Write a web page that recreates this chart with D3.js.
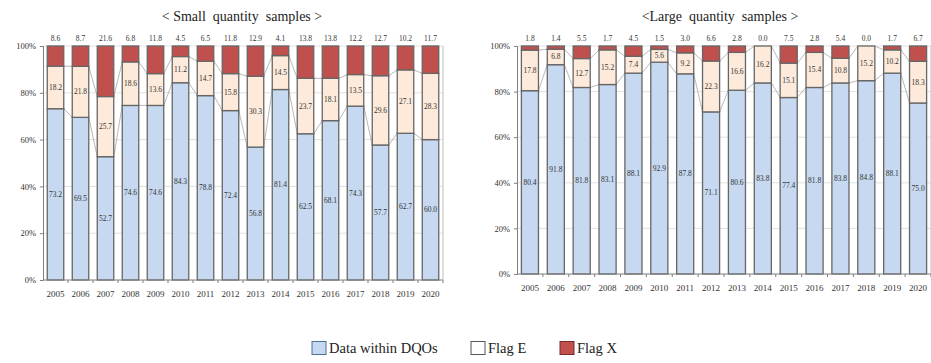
<!DOCTYPE html>
<html>
<head>
<meta charset="utf-8">
<script src="https://cdn.jsdelivr.net/npm/d3@7"></script>
<style>
  body { margin: 0; background: #fff; }
  svg text { font-family: "Liberation Serif", "Times New Roman", serif; }
</style>
</head>
<body>
<div id="chart-container"></div>
<script>
// categories
const years = ['2005', '2006', '2007', '2008', '2009', '2010', '2011', '2012',
    '2013', '2014', '2015', '2016', '2017', '2018', '2019', '2020']

// small quantity samples (%)
const smallDqo = [73.2, 69.5, 52.7, 74.6, 74.6, 84.3, 78.8, 72.4, 56.8, 81.4, 62.5, 68.1, 74.3, 57.7, 62.7, 60.0]
const smallFlagE = [18.2, 21.8, 25.7, 18.6, 13.6, 11.2, 14.7, 15.8, 30.3, 14.5, 23.7, 18.1, 13.5, 29.6, 27.1, 28.3]
const smallFlagX = [8.6, 8.7, 21.6, 6.8, 11.8, 4.5, 6.5, 11.8, 12.9, 4.1, 13.8, 13.8, 12.2, 12.7, 10.2, 11.7]

// large quantity samples (%)
const largeDqo = [80.4, 91.8, 81.8, 83.1, 88.1, 92.9, 87.8, 71.1, 80.6, 83.8, 77.4, 81.8, 83.8, 84.8, 88.1, 75.0]
const largeFlagE = [17.8, 6.8, 12.7, 15.2, 7.4, 5.6, 9.2, 22.3, 16.6, 16.2, 15.1, 15.4, 10.8, 15.2, 10.2, 18.3]
const largeFlagX = [1.8, 1.4, 5.5, 1.7, 4.5, 1.5, 3.0, 6.6, 2.8, 0.0, 7.5, 2.8, 5.4, 0.0, 1.7, 6.7]

const seriesNames = ['Data within DQOs', 'Flag E', 'Flag X']
const seriesColors = ['#c6d9f1', '#fdeada', '#c0504d']
const yTicks = [0, 20, 40, 60, 80, 100]

const width = 931, height = 363

const svg = d3.select('#chart-container')
    .append('svg')
    .attr('width', width)
    .attr('height', height)

function drawPanel(title, dqo, flagE, flagX, opts) {
    const rows = years.map((y, i) => ({ year: y, dqo: dqo[i], flagE: flagE[i], flagX: flagX[i] }))
    const keys = ['dqo', 'flagE', 'flagX']
    const stacked = d3.stack().keys(keys)(rows)

    const x = d3.scaleBand().domain(years).range([opts.left, opts.right])
        .paddingInner(0.34).paddingOuter(0.17)
    const y = d3.scaleLinear().domain([0, 100]).range([opts.bottom, opts.top])

    const g = svg.append('g')

    // gridlines
    g.selectAll('.grid')
        .data(yTicks.filter(t => t > 0))
        .enter()
        .append('line')
        .attr('x1', opts.left).attr('x2', opts.right)
        .attr('y1', d => y(d)).attr('y2', d => y(d))
        .attr('stroke', '#d9d9d9')
        .attr('stroke-width', 0.8)

    // plot area right edge
    g.append('line')
        .attr('x1', opts.right).attr('x2', opts.right)
        .attr('y1', opts.top).attr('y2', opts.bottom)
        .attr('stroke', '#bfbfbf')

    // series lines between bars
    const bw = x.bandwidth()
    for (let k = 0; k < 2; k++) {
        const s = stacked[k]
        for (let i = 0; i < years.length - 1; i++) {
            g.append('line')
                .attr('x1', x(years[i]) + bw).attr('y1', y(s[i][1]))
                .attr('x2', x(years[i + 1])).attr('y2', y(s[i + 1][1]))
                .attr('stroke', '#a6a6a6')
                .attr('stroke-width', 0.8)
        }
    }

    // bars
    stacked.forEach((s, k) => {
        g.selectAll('.bar-' + k)
            .data(s.filter(d => d[1] - d[0] > 0))
            .enter()
            .append('rect')
            .attr('x', d => x(d.data.year))
            .attr('y', d => y(d[1]))
            .attr('width', bw)
            .attr('height', d => y(d[0]) - y(d[1]))
            .attr('fill', seriesColors[k])
            .attr('stroke', '#666')
            .attr('stroke-width', 1.3)
    })

    // inner labels
    for (let k = 0; k < 2; k++) {
        g.selectAll('.lab-' + k)
            .data(stacked[k])
            .enter()
            .append('text')
            .attr('x', d => x(d.data.year) + bw / 2)
            .attr('y', d => y((d[0] + d[1]) / 2) + 2.5)
            .attr('text-anchor', 'middle')
            .attr('font-size', 7.5)
            .attr('fill', '#333')
            .text(d => (d[1] - d[0]).toFixed(1))
    }

    // flag X labels above bars
    g.selectAll('.lab-x')
        .data(rows)
        .enter()
        .append('text')
        .attr('x', d => x(d.year) + bw / 2)
        .attr('y', opts.top - 5)
        .attr('text-anchor', 'middle')
        .attr('font-size', 7.5)
        .attr('fill', '#333')
        .text(d => d.flagX.toFixed(1))

    // y axis
    const yAxis = g.append('g')
        .attr('transform', 'translate(' + opts.left + ',0)')
        .call(d3.axisLeft(y).tickValues(yTicks).tickSize(3).tickPadding(4).tickFormat(d => d + '%'))
    yAxis.select('.domain').attr('stroke', '#7f7f7f')
    yAxis.selectAll('line').attr('stroke', '#7f7f7f')
    yAxis.selectAll('text').attr('font-size', 8.5).attr('fill', '#333')

    // x axis with ticks at category boundaries
    g.append('line')
        .attr('x1', opts.left).attr('x2', opts.right)
        .attr('y1', opts.bottom).attr('y2', opts.bottom)
        .attr('stroke', '#7f7f7f')
    g.selectAll('.xtick')
        .data(years)
        .enter()
        .append('line')
        .attr('x1', d => x(d) + bw + x.step() * 0.17)
        .attr('x2', d => x(d) + bw + x.step() * 0.17)
        .attr('y1', opts.bottom).attr('y2', opts.bottom + 3)
        .attr('stroke', '#7f7f7f')
    g.selectAll('.xlab')
        .data(years)
        .enter()
        .append('text')
        .attr('x', d => x(d) + bw / 2)
        .attr('y', opts.bottom + 17)
        .attr('text-anchor', 'middle')
        .attr('font-size', 9)
        .attr('fill', '#333')
        .text(d => d)

    // title
    g.append('text')
        .attr('x', opts.titleX)
        .attr('y', 21)
        .attr('text-anchor', 'middle')
        .attr('font-size', 14)
        .attr('fill', '#222')
        .style('white-space', 'pre')
        .text(title)
}

drawPanel('< Small  quantity  samples >', smallDqo, smallFlagE, smallFlagX,
    { left: 43, right: 443, top: 46, bottom: 280, titleX: 242 })
drawPanel('<Large  quantity  samples >', largeDqo, largeFlagE, largeFlagX,
    { left: 517, right: 931, top: 46, bottom: 274, titleX: 720 })

// legend
const legendItems = [
    { name: seriesNames[0], color: seriesColors[0], stroke: '#4f6f9f', x: 312 },
    { name: seriesNames[1], color: '#ffffff', stroke: '#555', x: 471 },
    { name: seriesNames[2], color: seriesColors[2], stroke: '#7a2a2a', x: 560 }
]
const legend = svg.append('g').attr('transform', 'translate(0,348)')
legendItems.forEach(d => {
    legend.append('rect')
        .attr('x', d.x).attr('y', -6.5)
        .attr('width', 14).attr('height', 13)
        .attr('fill', d.color)
        .attr('stroke', d.stroke)
    legend.append('text')
        .attr('x', d.x + 17).attr('y', 5)
        .attr('font-size', 14.5)
        .attr('fill', '#222')
        .text(d.name)
})
</script>
</body>
</html>
